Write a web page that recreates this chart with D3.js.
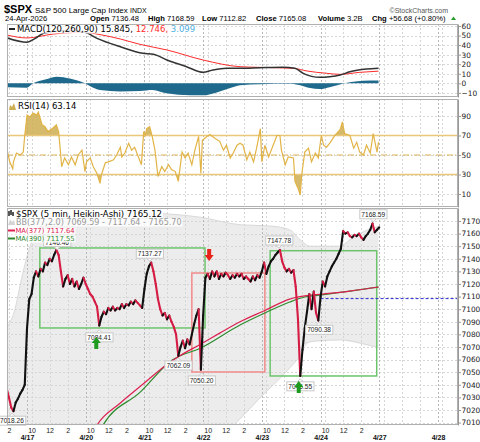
<!DOCTYPE html>
<html>
<head>
<meta charset="utf-8">
<script src="https://cdn.jsdelivr.net/npm/d3@7"></script>
<style>
  body { margin: 0; background: #fff; }
  svg { display: block; font-family: "DejaVu Sans", Verdana, sans-serif; }
  .arial { font-family: "Liberation Sans", Arial, sans-serif; }
</style>
</head>
<body>
<script>
// bar = 5-minute bar count from the 4/16 open (78 bars per session)
const barsPerSession = 78;
const sessions = ['4/16', '4/17', '4/20', '4/21', '4/22', '4/23', '4/24', '4/27', '4/28'];
const hourTicks = [[6, '10'], [30, '12'], [54, '2']];
const lastLabelledSession = 6;

// Heikin-Ashi closes, one every 15 minutes (3 bars)
const haStep = 3;
const ha0416 = [7037, 7030, 7022, 7019, 7026, 7029, 7033, 7036, 7040]; // from 13:45
const ha0417 = [7085, 7108, 7112, 7125, 7130, 7126, 7132, 7130, 7137, 7135, 7140, 7138, 7143,
  7147, 7143, 7130, 7118, 7124, 7127, 7120, 7124, 7118, 7122, 7116, 7120, 7125];
const ha0420 = [7120, 7116, 7112, 7110, 7106, 7102, 7087, 7094, 7098, 7096, 7101, 7099, 7102,
  7099, 7101, 7100, 7104, 7101, 7104, 7103, 7106, 7104, 7107, 7105, 7103, 7101];
const ha0421 = [7116, 7128, 7134, 7137, 7130, 7120, 7108, 7100, 7095, 7097, 7092, 7095, 7090,
  7086, 7080, 7063, 7070, 7075, 7069, 7076, 7072, 7080, 7088, 7095, 7100, 7052];
const ha0422 = [7095, 7125, 7128, 7124, 7130, 7126, 7130, 7124, 7128, 7126, 7129, 7127, 7124,
  7127, 7125, 7128, 7126, 7128, 7124, 7126, 7124, 7122, 7126, 7123, 7127, 7125];
const ha0423 = [7130, 7137, 7128, 7134, 7138, 7140, 7143, 7145, 7147, 7138, 7133, 7130, 7132,
  7129, 7131, 7118, 7092, 7047, 7068, 7085, 7098, 7112, 7100, 7114, 7097, 7091];
const ha0424 = [7110, 7122, 7118, 7126, 7130, 7134, 7137, 7140, 7144, 7148, 7162, 7160, 7161,
  7158, 7157, 7159, 7158, 7160, 7157, 7155, 7158, 7160, 7163, 7168, 7161, 7163, 7165];

// [bar, value]
const ma377 = [[162, 6998], [171, 7008], [202, 7025.6], [235, 7042], [263, 7055.7], [281, 7063],
  [308, 7072], [334, 7081], [361, 7090], [394, 7099], [427, 7108], [447, 7110.5], [470, 7112],
  [507, 7114.4], [545, 7117.64]];
const ma390 = [[170, 6998], [179, 7008], [228, 7034], [271, 7059.7], [308, 7069], [361, 7087.5],
  [394, 7097], [427, 7105.7], [447, 7109.7], [470, 7111.3], [507, 7114.4], [545, 7117.55]];
const bbUpper = [[51, 7085], [62, 7100], [71, 7125], [82, 7150], [95, 7165], [122, 7172],
  [175, 7175], [241, 7176], [308, 7173], [361, 7167], [401, 7166], [427, 7163], [441, 7155],
  [454, 7150], [494, 7150], [507, 7155], [527, 7162], [545, 7165.7]];
const bbLower = [[51, 6950], [308, 6985], [361, 7013], [388, 7030], [414, 7045], [434, 7058],
  [441, 7063], [447, 7073], [467, 7075], [494, 7075.6], [542, 7070], [545, 7069.59]];

const macdLine = [[51, 47.7], [78, 43], [89, 47], [100, 52.4], [131, 55.3], [155, 53.4], [171, 47.1],
  [202, 38.3], [232, 31.4], [246, 30.4], [264, 24.4], [290, 17.4], [312, 11.5], [325, 13.9],
  [343, 15.7], [361, 15.7], [388, 16.3], [418, 16.8], [434, 15.7], [445, 10.5], [467, 6.3],
  [480, 6.9], [494, 8.7], [507, 12.1], [529, 15.0], [545, 15.845]];
const macdSignal = [[51, 50.6], [78, 47.5], [113, 51.6], [153, 53.4], [175, 51], [202, 46.4],
  [228, 40.8], [264, 34.9], [312, 24.4], [361, 17.4], [388, 16.7], [432, 15.7], [450, 12.9],
  [476, 10.5], [494, 9.4], [520, 11.5], [545, 12.746]];
const macdHist = [[51, -4], [78, -4.5], [86, 0], [102, 4], [118, 7], [135, 5], [155, 0], [162, -3],
  [175, -7], [202, -8.5], [228, -8], [245, -7], [263, -10.5], [295, -12.5], [312, -12.5],
  [328, -10], [348, -5], [361, -2], [388, -1], [427, -0.5], [441, -2], [454, -5], [467, -6],
  [480, -4], [500, 0], [514, 2], [534, 3], [545, 3.099]];

const rsi14 = [[51, 57], [55, 43], [59, 36], [60, 43], [64, 52], [69, 50], [73, 53], [75, 70],
  [78, 91], [82, 89], [86, 93], [91, 91], [93, 94], [98, 81], [102, 79], [106, 74], [113, 78],
  [117, 81], [120, 74], [122, 57], [124, 38], [128, 47], [133, 40], [137, 48], [142, 40],
  [146, 50], [151, 55], [155, 33], [157, 43], [162, 47], [166, 38], [171, 31], [175, 21],
  [177, 30], [182, 42], [186, 43], [193, 45], [197, 50], [202, 58], [204, 48], [208, 52],
  [213, 62], [217, 55], [221, 58], [226, 48], [230, 40], [233, 74], [235, 70], [237, 77],
  [241, 79], [244, 70], [248, 55], [252, 28], [257, 38], [261, 33], [266, 40], [270, 35],
  [275, 33], [279, 23], [284, 53], [288, 47], [292, 52], [297, 40], [301, 55], [306, 69],
  [309, 31], [311, 65], [317, 69], [321, 71], [328, 67], [334, 64], [339, 55], [343, 60],
  [348, 47], [352, 52], [357, 60], [361, 62], [365, 60], [370, 45], [374, 53], [379, 43],
  [383, 57], [388, 77], [390, 43], [394, 60], [399, 48], [405, 60], [410, 70], [414, 70],
  [416, 55], [421, 40], [425, 48], [432, 47], [434, 23], [438, 16], [441, 9], [443, 30],
  [447, 53], [452, 57], [456, 43], [461, 52], [465, 47], [469, 70], [472, 60], [476, 58],
  [481, 63], [487, 70], [494, 76], [497, 84], [500, 72], [507, 70], [512, 57], [516, 63],
  [520, 53], [525, 50], [529, 60], [534, 52], [538, 72], [543, 53], [545, 63.14]];

// annotations: [bar, value, side]
const extremes = [[118, 7146.46, 'hi'], [241, 7137.27, 'hi'], [413, 7147.78, 'hi'],
  [538, 7168.59, 'hi'], [58, 7018.26, 'lo'], [174, 7084.41, 'lo'], [279, 7062.09, 'lo'],
  [310, 7050.20, 'lo'], [441, 7045.55, 'lo'], [466, 7090.38, 'lo']];
// [barStart, barEnd, low, high, colour]
const zones = [[95, 314.5, 7085.1, 7148.6, '#6cc46c'], [297, 394, 7050.2, 7128.7, '#f08a8a'],
  [401, 542.6, 7047, 7146.4, '#6cc46c']];
// [bar, tip price, direction]
const signals = [[170, 7078, 'up'], [439, 7043, 'up'], [320, 7138.3, 'down']];
const prevClose = 7108.40;

const quote = [['Open', '7136.48'], ['High', '7168.59'], ['Low', '7112.82'], ['Close', '7165.08'],
  ['Volume', '3.2B'], ['Chg', '+56.68 (+0.80%)']];

const macdTicks = [60, 50, 40, 30, 20, 10, 0, -10];
const rsiTicks = [90, 70, 50, 30, 10];
const pxTicks = [7170, 7160, 7150, 7140, 7130, 7120, 7110, 7100, 7090, 7080, 7070, 7060,
  7050, 7040, 7030, 7020, 7010];

// ---------------------------------------------------------------
const W = 480, H = 442, L = 7, R = 458;
const x = d3.scaleLinear().domain([51.4, 650.6]).range([L, R]);
const yMacd = d3.scaleLinear().domain([-14.3, 62.1]).range([97, 24]);
const yRsi = d3.scaleLinear().domain([-3.3, 107.4]).range([207, 99]);
const yPx = d3.scaleLinear().domain([7008.1, 7180.3]).range([425, 208]);

const svg = d3.select('body').append('svg').attr('width', W).attr('height', H);
const defs = svg.append('defs');

const haSeries = [[ha0416, 51], [ha0417, 78], [ha0420, 156], [ha0421, 234], [ha0422, 312],
  [ha0423, 390], [ha0424, 468]]
  .flatMap(([vals, start]) => vals.map((v, i) => [start + i * haStep, v]));

const [x0, x1] = x.domain();
const sessionBars = sessions.map((s, i) => i * barsPerSession).filter(b => b >= x0 && b <= x1);
const hourBars = sessions.flatMap((s, i) => hourTicks.map(([o, t]) => ({ bar: i * barsPerSession + o, label: t, session: i })))
  .filter(d => d.bar >= x0 && d.bar <= x1);

function clip(id, y) {
  const [b, t] = y.range();
  defs.append('clipPath').attr('id', id).append('rect')
    .attr('x', L).attr('y', t).attr('width', R - L).attr('height', b - t);
  return `url(#${id})`;
}

function grid(g, y, ticks) {
  const [b, t] = y.range();
  g.append('g').selectAll('line').data(ticks).join('line')
    .attr('x1', L).attr('x2', R)
    .attr('y1', d => Math.round(y(d)) + 0.5).attr('y2', d => Math.round(y(d)) + 0.5)
    .attr('stroke', '#d6d6d6').attr('stroke-dasharray', '2,2');
  g.append('g').selectAll('line').data(hourBars).join('line')
    .attr('x1', d => Math.round(x(d.bar)) + 0.5).attr('x2', d => Math.round(x(d.bar)) + 0.5)
    .attr('y1', t).attr('y2', b)
    .attr('stroke', '#d6d6d6').attr('stroke-dasharray', '2,2');
  g.append('g').selectAll('line').data(sessionBars).join('line')
    .attr('x1', d => Math.round(x(d)) + 0.5).attr('x2', d => Math.round(x(d)) + 0.5)
    .attr('y1', t).attr('y2', b)
    .attr('stroke', '#b8b8b8').attr('stroke-dasharray', '2,2');
}

function rightAxis(y, ticks) {
  const g = svg.append('g').attr('transform', `translate(${R},0)`)
    .call(d3.axisRight(y).tickValues(ticks).tickFormat(d3.format('d'))
      .tickSize(3).tickPadding(0.5).tickSizeOuter(0));
  g.select('.domain').attr('stroke', '#999');
  g.selectAll('.tick line').attr('stroke', '#999');
  g.selectAll('.tick text').attr('fill', '#222').style('font-size', '7.4px')
    .style('font-family', '"DejaVu Sans", Verdana, sans-serif');
}

function frame(y) {
  const [b, t] = y.range();
  svg.append('rect').attr('x', L + 0.5).attr('y', t + 0.5).attr('width', R - L - 1).attr('height', b - t - 1)
    .attr('fill', 'none').attr('stroke', '#b0b0b0');
}

function legendBg(g) {
  const bb = g.node().getBBox();
  g.insert('rect', ':first-child')
    .attr('x', bb.x - 1).attr('y', bb.y + 0.5).attr('width', bb.width + 2).attr('height', bb.height - 1)
    .attr('fill', '#fff').attr('opacity', 0.85);
}

// ---------------- header ----------------
svg.append('text').attr('class', 'arial').attr('x', 4).attr('y', 13).style('font-size', '11px')
  .style('font-weight', 'bold').text('$SPX');
svg.append('text').attr('class', 'arial').attr('x', 35).attr('y', 12.5).style('font-size', '8px')
  .text('S&P 500 Large Cap Index');
svg.append('text').attr('class', 'arial').attr('x', 130).attr('y', 12.5).style('font-size', '7px').text('INDX');
svg.append('text').attr('class', 'arial').attr('x', 448).attr('y', 12.5).attr('text-anchor', 'end').attr('fill', '#555')
  .style('font-size', '7px').text('\u00a9StockCharts.com');
svg.append('text').attr('class', 'arial').attr('x', 5).attr('y', 20.5).style('font-size', '7.6px').text('24-Apr-2026');
const quoteX = [90, 148, 202, 256, 318, 372];
quote.forEach(([k, v], i) => {
  const t = svg.append('text').attr('class', 'arial').attr('x', quoteX[i]).attr('y', 20.5).style('font-size', '7.6px');
  t.append('tspan').style('font-weight', 'bold').text(k);
  t.append('tspan').text(' ' + v);
});
svg.append('path').attr('d', 'M451,20 l2.5,-3.5 l2.5,3.5 z').attr('fill', '#2a9a2a');

// ---------------- MACD ----------------
const gM = svg.append('g');
grid(gM, yMacd, macdTicks);
const cM = gM.append('g').attr('clip-path', clip('clipM', yMacd));
cM.append('path').datum(macdHist)
  .attr('d', d3.area().x(d => x(d[0])).y0(yMacd(0)).y1(d => yMacd(d[1])).curve(d3.curveMonotoneX))
  .attr('fill', '#1f6a8c');
cM.append('path').datum(macdSignal)
  .attr('d', d3.line().x(d => x(d[0])).y(d => yMacd(d[1])).curve(d3.curveMonotoneX))
  .attr('fill', 'none').attr('stroke', '#ff2b2b').attr('stroke-width', 1);
cM.append('path').datum(macdLine)
  .attr('d', d3.line().x(d => x(d[0])).y(d => yMacd(d[1])).curve(d3.curveMonotoneX))
  .attr('fill', 'none').attr('stroke', '#333').attr('stroke-width', 1.5);
const lgM = svg.append('g');
lgM.append('line').attr('x1', 9).attr('x2', 15).attr('y1', 29).attr('y2', 29).attr('stroke', '#222').attr('stroke-width', 2);
const tM = lgM.append('text').attr('x', 17).attr('y', 32).style('font-size', '8.5px');
tM.append('tspan').text('MACD(120,260,90) 15.845, ');
tM.append('tspan').attr('fill', '#ff2b2b').text('12.746, ');
tM.append('tspan').attr('fill', '#4fb0e0').text('3.099');
legendBg(lgM);
frame(yMacd);
rightAxis(yMacd, macdTicks);

// ---------------- RSI ----------------
const gR = svg.append('g');
grid(gR, yRsi, rsiTicks);
const cR = gR.append('g').attr('clip-path', clip('clipR', yRsi));
defs.append('clipPath').attr('id', 'rsiHi').append('rect')
  .attr('x', L).attr('y', yRsi.range()[1]).attr('width', R - L).attr('height', yRsi(70) - yRsi.range()[1]);
defs.append('clipPath').attr('id', 'rsiLo').append('rect')
  .attr('x', L).attr('y', yRsi(30)).attr('width', R - L).attr('height', yRsi.range()[0] - yRsi(30));
cR.append('path').datum(rsi14).attr('clip-path', 'url(#rsiHi)')
  .attr('d', d3.area().x(d => x(d[0])).y0(yRsi(70)).y1(d => yRsi(d[1])))
  .attr('fill', '#cfae52').attr('opacity', 0.85);
cR.append('path').datum(rsi14).attr('clip-path', 'url(#rsiLo)')
  .attr('d', d3.area().x(d => x(d[0])).y0(yRsi(30)).y1(d => yRsi(d[1])))
  .attr('fill', '#cfae52').attr('opacity', 0.85);
[70, 30].forEach(v => cR.append('line').attr('x1', L).attr('x2', R).attr('y1', yRsi(v)).attr('y2', yRsi(v))
  .attr('stroke', '#e9c87a').attr('stroke-width', 1.5));
cR.append('line').attr('x1', L).attr('x2', R).attr('y1', yRsi(50)).attr('y2', yRsi(50))
  .attr('stroke', '#dcb35a').attr('stroke-dasharray', '6,2,1,2');
cR.append('path').datum(rsi14)
  .attr('d', d3.line().x(d => x(d[0])).y(d => yRsi(d[1])))
  .attr('fill', 'none').attr('stroke', '#e2b447').attr('stroke-width', 1.2);
const lgR = svg.append('g');
lgR.append('path').attr('d', 'M9,110 L10,105 L12,107 L14,103 L16,110 Z').attr('fill', '#cfae52');
lgR.append('text').attr('x', 18).attr('y', 108.5).style('font-size', '8.5px').text('RSI(14) 63.14');
legendBg(lgR);
frame(yRsi);
rightAxis(yRsi, rsiTicks);

// ---------------- price ----------------
const gP = svg.append('g');
const cP = gP.append('g').attr('clip-path', clip('clipP', yPx));
const lowerAt = d3.scaleLinear().domain(bbLower.map(e => e[0])).range(bbLower.map(e => e[1]));
cP.append('path').datum(bbUpper.map(d => [d[0], d[1], lowerAt(d[0])]))
  .attr('d', d3.area().x(d => x(d[0])).y0(d => yPx(d[2])).y1(d => yPx(d[1])).curve(d3.curveMonotoneX))
  .attr('fill', '#ececec');
[bbUpper, bbLower].forEach(s => cP.append('path').datum(s)
  .attr('d', d3.line().x(d => x(d[0])).y(d => yPx(d[1])).curve(d3.curveMonotoneX))
  .attr('fill', 'none').attr('stroke', '#d9d9d9'));
grid(gP, yPx, pxTicks);
const cP2 = gP.append('g').attr('clip-path', 'url(#clipP)');
cP2.selectAll('rect.zone').data(zones).join('rect').attr('class', 'zone')
  .attr('x', d => x(d[0])).attr('y', d => yPx(d[3])).attr('width', d => x(d[1]) - x(d[0]))
  .attr('height', d => yPx(d[2]) - yPx(d[3]))
  .attr('fill', 'none').attr('stroke', d => d[4]).attr('stroke-width', 1.5);
cP2.append('line').attr('x1', x(468)).attr('x2', R).attr('y1', yPx(prevClose)).attr('y2', yPx(prevClose))
  .attr('stroke', '#2b2bd0').attr('stroke-dasharray', '3,2');
[[ma390, '#2e8b2e'], [ma377, '#dc2050']].forEach(([s, c]) => cP2.append('path').datum(s)
  .attr('d', d3.line().x(d => x(d[0])).y(d => yPx(d[1])).curve(d3.curveMonotoneX))
  .attr('fill', 'none').attr('stroke', c).attr('stroke-width', 1.2));
cP2.append('g').selectAll('line').data(d3.pairs(haSeries)).join('line')
  .attr('x1', d => x(d[0][0])).attr('x2', d => x(d[1][0]))
  .attr('y1', d => yPx(d[0][1])).attr('y2', d => yPx(d[1][1]))
  .attr('stroke', d => d[1][1] >= d[0][1] ? '#111' : '#d41c44')
  .attr('stroke-width', 2.1).attr('stroke-linecap', 'round');

// extreme labels
const gE = gP.append('g');
extremes.forEach(([b, v, side]) => {
  const cx = x(b), cy = yPx(v);
  const g = gE.append('g');
  const t = g.append('text').attr('class', 'arial').attr('x', cx).attr('text-anchor', 'middle')
    .style('font-size', '6.6px').attr('fill', '#222').text(v.toFixed(2));
  const boxTop = side === 'hi' ? cy - 13 : cy + 4;
  t.attr('y', boxTop + 7);
  const bb = t.node().getBBox();
  const tri = side === 'hi'
    ? `M${cx - 3},${boxTop + 9} L${cx},${boxTop + 12} L${cx + 3},${boxTop + 9}`
    : `M${cx - 3},${boxTop} L${cx},${boxTop - 3} L${cx + 3},${boxTop}`;
  g.insert('path', 'text').attr('d', tri).attr('fill', '#fff').attr('stroke', '#c8c8c8');
  g.insert('rect', 'text').attr('x', bb.x - 1.5).attr('y', boxTop).attr('width', bb.width + 3).attr('height', 9)
    .attr('fill', '#fff').attr('stroke', '#c8c8c8');
});

// signal arrows
gP.append('g').selectAll('path').data(signals).join('path')
  .attr('d', ([b, v, dir]) => {
    const cx = x(b), ty = yPx(v), s = dir === 'up' ? 1 : -1;
    return `M${cx},${ty} L${cx + 4.5},${ty + 6 * s} L${cx + 2},${ty + 6 * s} L${cx + 2},${ty + 12 * s}
      L${cx - 2},${ty + 12 * s} L${cx - 2},${ty + 6 * s} L${cx - 4.5},${ty + 6 * s} Z`;
  })
  .attr('fill', d => d[2] === 'up' ? '#1e9a1e' : '#e8231a');

// legend
const lgP = svg.append('g');
const lg1 = lgP.append('g');
[[9, 211, 216], [11, 210, 215], [13, 212, 216]].forEach(([xx, a, b]) =>
  lg1.append('line').attr('x1', xx).attr('x2', xx).attr('y1', a).attr('y2', b).attr('stroke', '#111').attr('stroke-width', 1.4));
lg1.append('text').attr('x', 16).attr('y', 216.5).style('font-size', '8.5px').text('$SPX (5 min, Heikin-Ashi) 7165.12');
legendBg(lg1);
const lg2 = lgP.append('g');
lg2.append('path').attr('d', 'M8,225 L10,219.5 L12,222 L14,220 L15,225 Z').attr('fill', '#d4d4d4');
lg2.append('text').attr('x', 16).attr('y', 225).style('font-size', '8px').attr('fill', '#999')
  .text('BB(377,2.0) 7069.59 - 7117.64 - 7165.70');
legendBg(lg2);
[['MA(377) 7117.64', '#dc2050', 233], ['MA(390) 7117.55', '#2e8b2e', 241]].forEach(([label, c, yy]) => {
  const g = lgP.append('g');
  g.append('line').attr('x1', 8).attr('x2', 15).attr('y1', yy - 2.5).attr('y2', yy - 2.5).attr('stroke', c).attr('stroke-width', 2);
  g.append('text').attr('x', 15.5).attr('y', yy).style('font-size', '6.8px').attr('fill', c).text(label);
  legendBg(g);
});
frame(yPx);
rightAxis(yPx, pxTicks);

// x axis
const ax1 = svg.append('g').attr('transform', `translate(0,${yPx.range()[0]})`)
  .call(d3.axisBottom(x).tickValues(hourBars.filter(d => d.session <= lastLabelledSession).map(d => d.bar))
    .tickFormat(b => hourBars.find(d => d.bar === b).label).tickSize(0).tickPadding(3));
ax1.select('.domain').remove();
ax1.selectAll('text').attr('fill', '#222')
  .style('font-size', '7px').style('font-family', '"Liberation Sans", Arial, sans-serif');
const ax2 = svg.append('g').attr('transform', `translate(0,${yPx.range()[0]})`)
  .call(d3.axisBottom(x).tickValues(sessionBars).tickFormat(b => sessions[b / barsPerSession])
    .tickSize(0).tickPadding(10.2));
ax2.select('.domain').remove();
ax2.selectAll('text').attr('fill', '#111')
  .style('font-size', '7px').style('font-weight', 'bold').style('font-family', '"Liberation Sans", Arial, sans-serif');
</script>
</body>
</html>
